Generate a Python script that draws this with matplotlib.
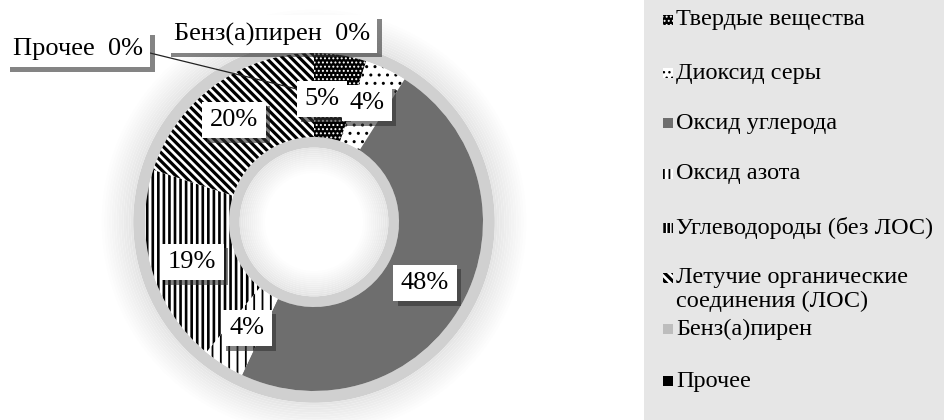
import matplotlib
matplotlib.use("Agg")
import matplotlib.pyplot as plt
from matplotlib.patches import Wedge, Rectangle
import matplotlib.patheffects as pe
import numpy as np

plt.rcParams['font.family'] = ['Liberation Serif', 'DejaVu Serif']
plt.rcParams['hatch.linewidth'] = 1.5

# ---- data ----
categories = ["Твердые вещества", "Диоксид серы", "Оксид углерода", "Оксид азота",
              "Углеводороды (без ЛОС)", "Летучие органические\nсоединения (ЛОС)",
              "Бенз(а)пирен", "Прочее"]
values = [5, 4, 48, 4, 19, 20, 0, 0]

# ---- styles ----
faces = ["black", "white", "#6e6e6e", "white", "white", "white", "#bdbdbd", "black"]
hatch_cols = ["white", "black", "#6e6e6e", "black", "black", "black", "#bdbdbd", "black"]
hatches = ["....", "..", None, "||", "|||", "\\\\\\\\", None, None]
hatch_lws = [0.9, 1.0, 1.0, 1.3, 1.9, 2.3, 1.0, 1.0]
leg_hatches = ["....", "...", None, "|||", "||||", "\\\\\\\\", None, None]

W, H = 944, 420
CX, CY, R = 314, 222, 169.0
fig = plt.figure(figsize=(W / 100, H / 100), dpi=100)
fig.patch.set_facecolor("white")

PW = 644
ax = fig.add_axes([0, 0, PW / W, 1])

def d(px, py):
    return ((px - CX) / R, (CY - py) / R)

# halo (shadow effect) around the ring
ax.add_patch(Wedge((0, 0), 1.07, 0, 360, width=0.07, facecolor="#d0d0d0", edgecolor="none", zorder=0))
steps = 14
radii = np.linspace(1.07, 1.27, steps + 1)
for k in range(steps):
    g = 0.89 + (1.0 - 0.89) * (k + 1) / steps
    ax.add_patch(Wedge((0, 0), radii[k + 1], 0, 360, width=radii[k + 1] - radii[k],
                       facecolor=(g, g, g), edgecolor="none", zorder=0))
ax.add_patch(Wedge((0, 0), 0.503, 0, 360, width=0.063, facecolor="#d0d0d0", edgecolor="none", zorder=0))
radii_in = np.linspace(0.44, 0.28, steps + 1)
for k in range(steps):
    g = 0.89 + (1.0 - 0.89) * (k + 1) / steps
    ax.add_patch(Wedge((0, 0), radii_in[k], 0, 360, width=radii_in[k] - radii_in[k + 1],
                       facecolor=(g, g, g), edgecolor="none", zorder=0))

wedges, _ = ax.pie(values, startangle=90, counterclock=False, radius=1.0,
                   colors=faces, wedgeprops=dict(width=0.497, linewidth=0))
for w, h, hc, hl in zip(wedges, hatches, hatch_cols, hatch_lws):
    w.set_edgecolor(hc)
    w.set_linewidth(0)
    if h:
        w.set_hatch(h)
        if hasattr(w, "set_hatch_linewidth"):
            w.set_hatch_linewidth(hl)
    w.set_zorder(2)
ax.set_xlim(-CX / R, (PW - CX) / R)
ax.set_ylim(-(H - CY) / R, CY / R)
ax.set_aspect("auto")
ax.axis("off")

# leader line from "Прочее" label
p0, p1 = d(150, 53), d(305, 91)
ax.plot([p0[0], p1[0]], [p0[1], p1[1]], color="#222222", lw=0.9, zorder=3)

label_pos = [(322, 99), (367, 103), (425, 283), (247, 328), (192, 262), (234, 120)]
label_texts = [f"{v}%" for v in values[:6]]
zero_pos = [(272, 34), (78, 49)]
zero_texts = [f"{categories[6]}  {values[6]}%", f"{categories[7]}  {values[7]}%"]

def label(x, y, s, z):
    t = ax.text(x, y, s, ha="center", va="center", fontsize=19, color="black", zorder=z,
                bbox=dict(boxstyle="square,pad=0.28", facecolor="white", edgecolor="none"))
    t.get_bbox_patch().set_path_effects(
        [pe.SimplePatchShadow(offset=(3, -3), shadow_rgbFace="#333333", alpha=0.6), pe.Normal()])

for i in range(6):
    x, y = d(*label_pos[i])
    label(x, y, label_texts[i], 5 + i)
x, y = d(*zero_pos[0]); label(x, y, zero_texts[0], 12)
x, y = d(*zero_pos[1]); label(x, y, zero_texts[1], 14)

# ---- legend panel ----
lax = fig.add_axes([PW / W, 0, (W - PW) / W, 1])
lax.set_xlim(0, W - PW)
lax.set_ylim(H, 0)
lax.set_facecolor("#e6e6e6")
for s in lax.spines.values():
    s.set_visible(False)
lax.set_xticks([]); lax.set_yticks([])

leg_y = [20, 73, 123, 174, 228, 278, 329, 381]
for i, (cat, y) in enumerate(zip(categories, leg_y)):
    rect = Rectangle((19, y - 5), 10, 10, facecolor=faces[i], edgecolor=hatch_cols[i],
                     linewidth=0, hatch=leg_hatches[i])
    if leg_hatches[i] and hasattr(rect, "set_hatch_linewidth"):
        rect.set_hatch_linewidth(hatch_lws[i])
    lax.add_patch(rect)
    lines = cat.split("\n")
    for j, ln in enumerate(lines):
        lax.text(32, y + j * 23, ln, ha="left", va="center", fontsize=17.5, color="black")

fig.savefig("out.png", dpi=100)
